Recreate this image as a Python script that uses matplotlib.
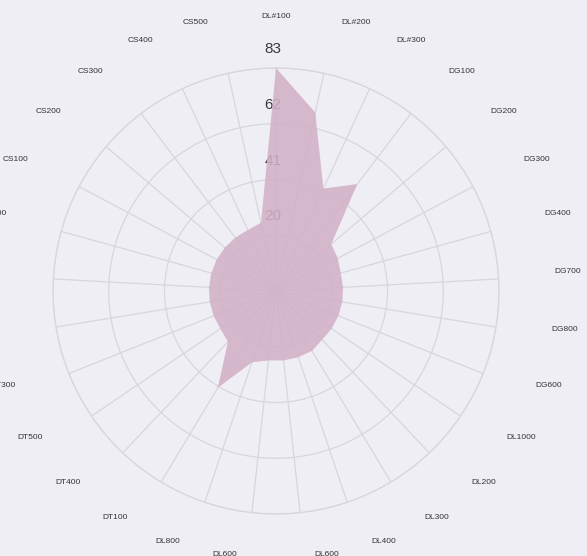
import numpy as np
import matplotlib.pyplot as plt

plt.rcParams["font.family"] = ["Liberation Sans", "DejaVu Sans"]

# categories clockwise from the top
labels = [
    "DL#100", "DL#200", "DL#300", "DG100", "DG200", "DG300", "DG400",
    "DG700", "DG800", "DG600", "DL1000", "DL200", "DL300", "DL400",
    "DL600", "DL600", "DL800", "DT100", "DT400", "DT500", "DT300",
    "DT600", "DT700", "DT800", "CS100", "CS200", "CS300", "CS400", "CS500",
]
values = [
    83, 68, 42, 50, 27, 26, 25, 25, 25, 25, 25, 25, 26, 26, 26,
    26, 28, 42, 26, 25, 25, 25, 25, 25, 25, 25, 25, 25, 26,
]
r_ticks = [20.75, 41.5, 62.25, 83]
r_tick_labels = ["20", "41", "62", "83"]
r_max = 83

bg = "#efeef5"
grid_col = "#d6d6de"
fill_col = "#d3b1c7"

fig = plt.figure(figsize=(5.87, 5.56), dpi=100, facecolor=bg)
ax = fig.add_axes([0.0903, 0.0755, 0.7598, 0.8022], projection="polar")
ax.set_facecolor(bg)
ax.set_theta_zero_location("N")
ax.set_theta_direction(-1)

n = len(labels)
angles = np.arange(n) * 2 * np.pi / n

ax.set_ylim(0, r_max)
ax.set_xticks(angles)
ax.set_xticklabels([])
ax.set_yticks(r_ticks)
ax.set_yticklabels([])
ax.grid(True, color=grid_col, linewidth=0.9)
ax.spines["polar"].set_color(grid_col)
ax.spines["polar"].set_linewidth(0.9)
ax.tick_params(length=0)

# radial scale labels (drawn under the filled shape)
for r, txt in zip(r_ticks, r_tick_labels):
    ax.annotate(txt, (0, r), xytext=(-3, 19), textcoords="offset pixels",
                ha="center", va="center", fontsize=11, color="#3a3a3a",
                zorder=2, annotation_clip=False)

# filled shape
a_closed = np.append(angles, angles[0])
v_closed = np.append(values, values[0])
ax.fill(a_closed, v_closed, color=fill_col, alpha=0.88, lw=0, zorder=3)

# category labels around the outside
for ang, txt in zip(angles, labels):
    s = np.sin(ang)
    side = 0 if abs(s) < 1e-6 else np.sign(s)
    dx = 47 * s + 22 * side
    dy = 47 * np.cos(ang) + 5
    ax.annotate(txt, (ang, r_max), xytext=(dx, dy), textcoords="offset pixels",
                ha="center", va="center", fontsize=6, color="#333333",
                annotation_clip=False)

fig.savefig("out.png", dpi=100, facecolor=bg)
